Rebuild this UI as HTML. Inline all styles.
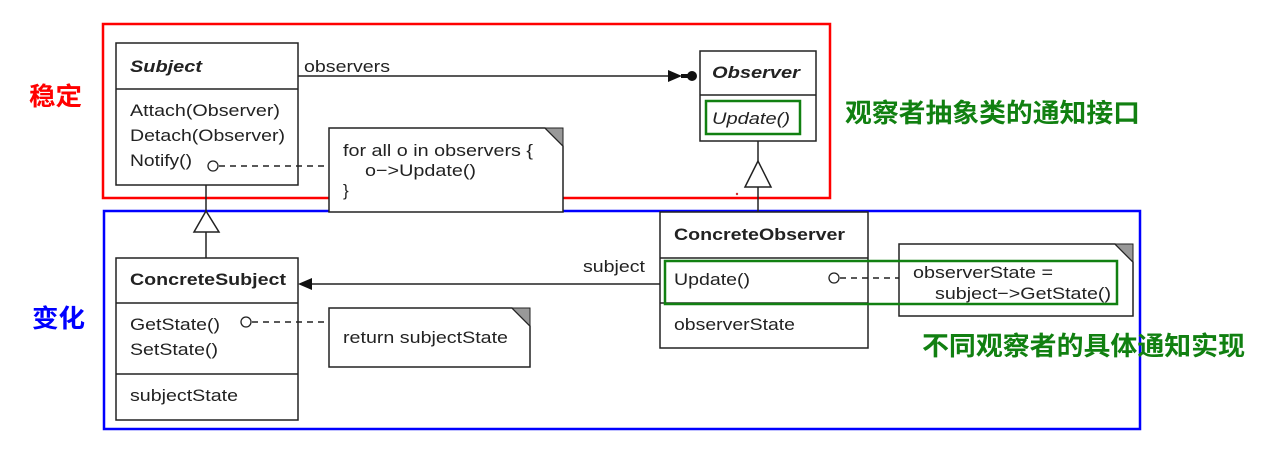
<!DOCTYPE html>
<html><head><meta charset="utf-8"><style>
html,body{margin:0;padding:0;background:#fff;width:1270px;height:463px;overflow:hidden}
svg{display:block}
.t{font-family:"Liberation Sans",Arial,sans-serif;font-size:17px;fill:#222}
.b{font-weight:bold}
.cjk{font-family:"Liberation Sans","Noto Sans CJK SC",sans-serif;font-weight:bold}
</style></head><body>
<svg width="1270" height="463" viewBox="0 0 1270 463" xmlns="http://www.w3.org/2000/svg">
<rect x="103" y="24" width="727" height="174" fill="none" stroke="#f00" stroke-width="2.5"/>
<rect x="104" y="211" width="1036" height="218" fill="none" stroke="#00f" stroke-width="2.5"/>
<text x="29" y="105" class="cjk" font-size="25" fill="#f00" textLength="53" lengthAdjust="spacingAndGlyphs">稳定</text>
<text x="32" y="327" class="cjk" font-size="25" fill="#00f" textLength="53" lengthAdjust="spacingAndGlyphs">变化</text>
<text x="845" y="122" class="cjk" font-size="26" fill="#118011" textLength="295" lengthAdjust="spacingAndGlyphs">观察者抽象类的通知接口</text>
<text x="922" y="355" class="cjk" font-size="26" fill="#118011" textLength="323" lengthAdjust="spacingAndGlyphs">不同观察者的具体通知实现</text>

<g stroke="#222" stroke-width="1.5" fill="#fff">
<rect x="116" y="43" width="182" height="142"/>
<line x1="116" y1="89" x2="298" y2="89"/>
<rect x="700" y="51" width="116" height="90"/>
<line x1="700" y1="95" x2="816" y2="95"/>
<rect x="116" y="258" width="182" height="162"/>
<line x1="116" y1="303" x2="298" y2="303"/>
<line x1="116" y1="374" x2="298" y2="374"/>
<rect x="660" y="212" width="208" height="136"/>
<line x1="660" y1="258" x2="868" y2="258"/>
<line x1="660" y1="303" x2="868" y2="303"/>
<path d="M329 128 H545 L563 146 V212 H329 Z"/>
<path d="M329 308 H512 L530 326 V367 H329 Z"/>
<path d="M899 244 H1115 L1133 262 V316 H899 Z"/>
</g>
<g fill="#999" stroke="#222" stroke-width="1">
<path d="M545 128 H563 V146 Z"/>
<path d="M512 308 H530 V326 Z"/>
<path d="M1115 244 H1133 V262 Z"/>
</g>
<g stroke="#222" stroke-width="1.5" fill="none">
<line x1="298" y1="76" x2="680" y2="76"/>
<line x1="206" y1="185" x2="206" y2="211"/>
<line x1="206" y1="232" x2="206" y2="258"/>
<line x1="758" y1="141" x2="758" y2="161"/>
<line x1="758" y1="187" x2="758" y2="212"/>
<line x1="312" y1="284" x2="660" y2="284"/>
</g>
<g stroke="#222" stroke-width="1.5" fill="#fff">
<path d="M206 211 L194 232 H219 Z"/>
<path d="M758 161 L745 187 H771 Z"/>
</g>
<g fill="#111">
<path d="M668 70 L682 76 L668 82 Z"/>
<circle cx="692" cy="76" r="5"/>
<rect x="681" y="74" width="8" height="4"/>
<path d="M312 278 L298 284 L312 290 Z"/>
</g>
<g stroke="#222" stroke-width="1.5" fill="none" stroke-dasharray="6,5">
<line x1="219" y1="166" x2="329" y2="166"/>
<line x1="252" y1="322" x2="329" y2="322"/>
<line x1="840" y1="278" x2="899" y2="278"/>
</g>
<g stroke="#222" stroke-width="1.3" fill="#fff">
<circle cx="213" cy="166" r="5"/>
<circle cx="246" cy="322" r="5"/>
<circle cx="834" cy="278" r="5"/>
</g>
<rect x="706" y="101" width="94" height="33" fill="none" stroke="#118011" stroke-width="2.5"/>
<rect x="665" y="261" width="452" height="43" fill="none" stroke="#118011" stroke-width="2.5"/>
<circle cx="737" cy="194" r="1.2" fill="#c33"/>
<g lengthAdjust="spacingAndGlyphs">
<text x="130" y="72" class="t b" font-style="italic" font-size="18" textLength="72" lengthAdjust="spacingAndGlyphs">Subject</text>
<text x="130" y="116" class="t" textLength="150" lengthAdjust="spacingAndGlyphs">Attach(Observer)</text>
<text x="130" y="141" class="t" textLength="155" lengthAdjust="spacingAndGlyphs">Detach(Observer)</text>
<text x="130" y="166" class="t" textLength="62" lengthAdjust="spacingAndGlyphs">Notify()</text>
<text x="304" y="72" class="t" textLength="86" lengthAdjust="spacingAndGlyphs">observers</text>
<text x="712" y="78" class="t b" font-style="italic" font-size="18" textLength="88" lengthAdjust="spacingAndGlyphs">Observer</text>
<text x="712" y="124" class="t" font-style="italic" textLength="78" lengthAdjust="spacingAndGlyphs">Update()</text>
<text x="343" y="156" class="t" textLength="190" lengthAdjust="spacingAndGlyphs">for all o in observers {</text>
<text x="365" y="176" class="t" textLength="111" lengthAdjust="spacingAndGlyphs">o−&gt;Update()</text>
<text x="343" y="196" class="t">}</text>
<text x="130" y="285" class="t b" font-size="18" textLength="156" lengthAdjust="spacingAndGlyphs">ConcreteSubject</text>
<text x="130" y="330" class="t" textLength="90" lengthAdjust="spacingAndGlyphs">GetState()</text>
<text x="130" y="355" class="t" textLength="88" lengthAdjust="spacingAndGlyphs">SetState()</text>
<text x="130" y="401" class="t" textLength="108" lengthAdjust="spacingAndGlyphs">subjectState</text>
<text x="343" y="343" class="t" textLength="165" lengthAdjust="spacingAndGlyphs">return subjectState</text>
<text x="583" y="272" class="t" textLength="62" lengthAdjust="spacingAndGlyphs">subject</text>
<text x="674" y="240" class="t b" font-size="18" textLength="171" lengthAdjust="spacingAndGlyphs">ConcreteObserver</text>
<text x="674" y="285" class="t" textLength="76" lengthAdjust="spacingAndGlyphs">Update()</text>
<text x="674" y="330" class="t" textLength="121" lengthAdjust="spacingAndGlyphs">observerState</text>
<text x="913" y="278" class="t" textLength="140" lengthAdjust="spacingAndGlyphs">observerState =</text>
<text x="935" y="299" class="t" textLength="176" lengthAdjust="spacingAndGlyphs">subject−&gt;GetState()</text>
</g>
</svg>
</body></html>
